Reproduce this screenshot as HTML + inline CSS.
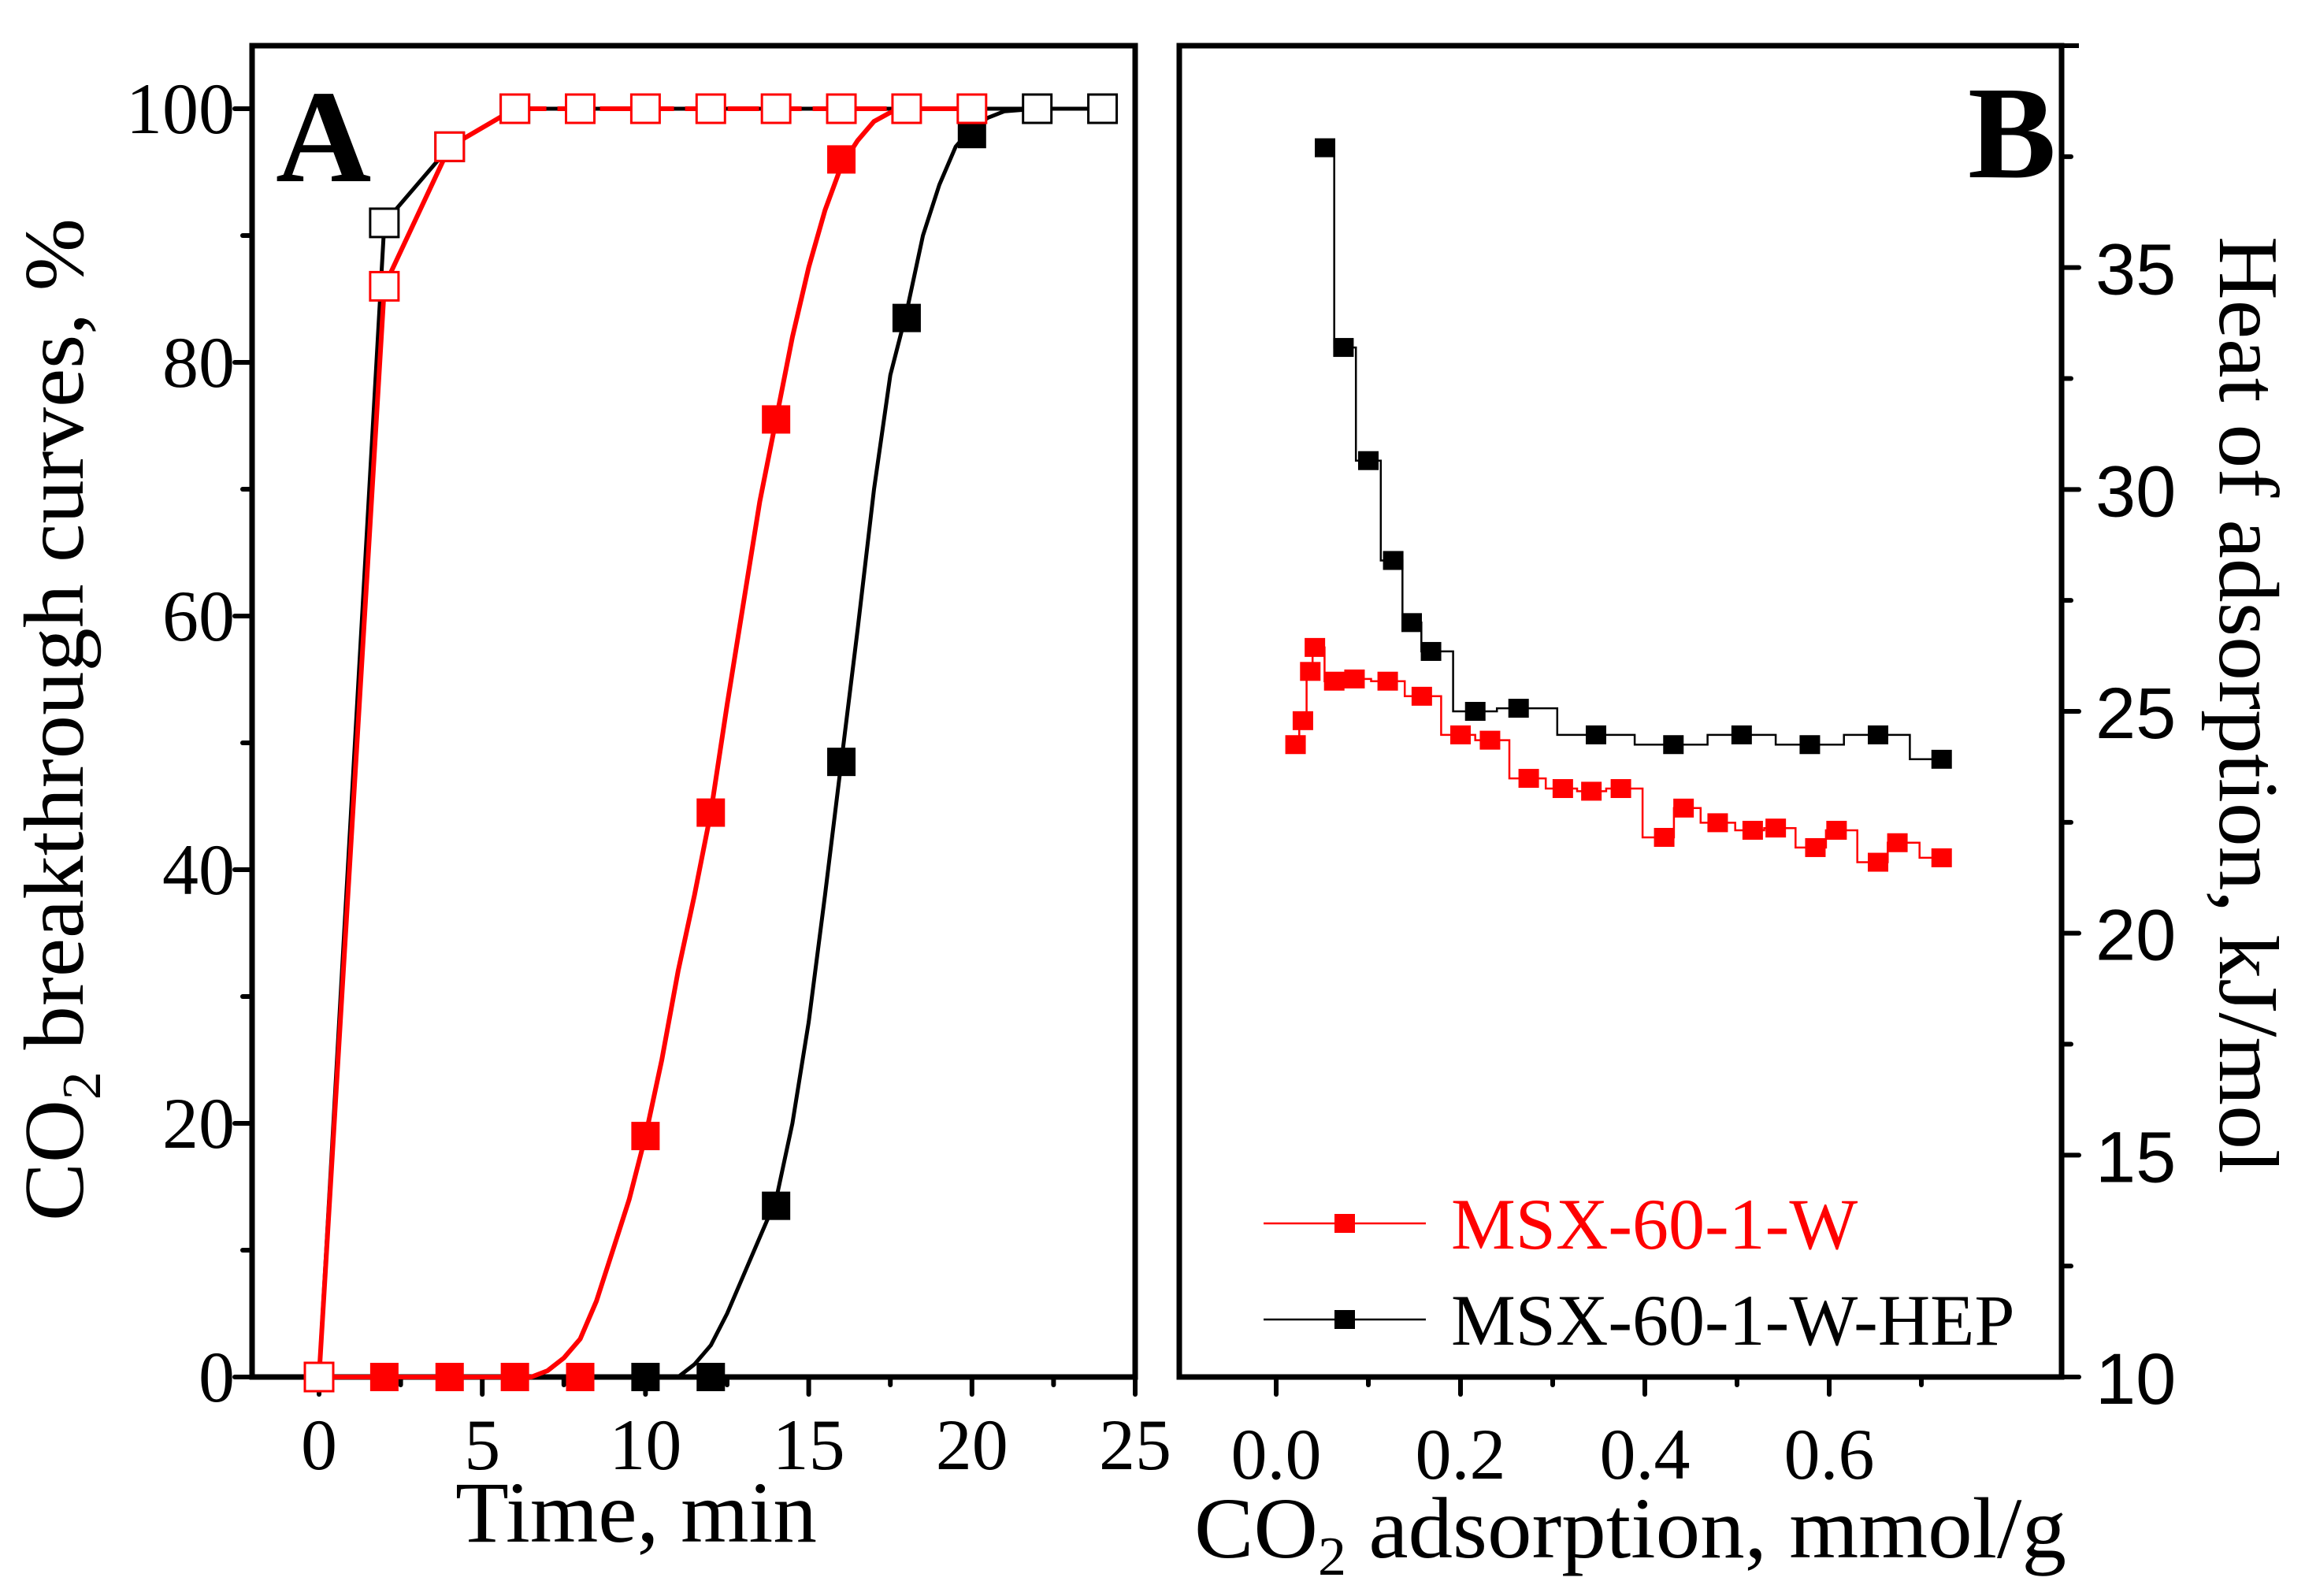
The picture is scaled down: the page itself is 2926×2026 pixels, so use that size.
<!DOCTYPE html>
<html><head><meta charset="utf-8"><style>
html,body{margin:0;padding:0;background:#fff;}
svg{display:block;}
.serif{font-family:"Liberation Serif","DejaVu Serif",serif;}
.sans{font-family:"Liberation Sans","DejaVu Sans",sans-serif;}
</style></head><body>
<svg id="chart" width="2926" height="2026" viewBox="0 0 2926 2026" xmlns="http://www.w3.org/2000/svg">
<g id="panelA"></g>
<g id="panelB"></g>
</svg>
<script>
// ---------- Panel A data ----------
const aXTicks = [0, 5, 10, 15, 20, 25];
const aYTicks = [0, 20, 40, 60, 80, 100];
const redOpenX = [0, 2, 4, 6, 8, 10, 12, 14, 16, 18, 20];
const redOpenY = [0, 86, 97, 100, 100, 100, 100, 100, 100, 100, 100];
const blackOpenX = [0, 2, 4, 6, 22, 24];
const blackOpenY = [0, 91, 97, 100, 100, 100];
const redCurveX = [0, 6.5, 7, 7.5, 8, 8.5, 9, 9.5, 10, 10.5, 11, 11.5, 12, 12.5, 13, 13.5, 14, 14.5, 15, 15.5, 16, 16.5, 17, 17.5, 18, 20];
const redCurveY = [0, 0, 0.5, 1.5, 3, 6, 10, 14, 19, 25, 32, 38, 44.5, 53, 61, 69, 75.5, 82, 87.5, 92, 95.5, 97.5, 99, 99.7, 100, 100];
const redFilledX = [2, 4, 6, 8, 10, 12, 14, 16];
const redFilledY = [0, 0, 0, 0, 19, 44.5, 75.5, 96];
const blackCurveX = [10, 11, 11.5, 12, 12.5, 13, 13.5, 14, 14.5, 15, 15.5, 16, 16.5, 17, 17.5, 18, 18.5, 19, 19.5, 20, 20.5, 21, 22, 24];
const blackCurveY = [0, 0, 1, 2.5, 5, 8, 11, 14, 20, 28, 38, 48.5, 59, 70, 79, 84, 90, 94, 97, 98.5, 99.3, 99.8, 100, 100];
const blackFilledX = [10, 12, 14, 16, 18, 20];
const blackFilledY = [0, 0, 13.5, 48.5, 83.5, 98];

// ---------- Panel B data ----------
const bXTicks = [0.0, 0.2, 0.4, 0.6];
const bXTickLabels = ["0.0", "0.2", "0.4", "0.6"];
const bYTicks = [10, 15, 20, 25, 30, 35];
const hepX = [0.053, 0.073, 0.100, 0.127, 0.147, 0.168, 0.216, 0.263, 0.347, 0.431, 0.505, 0.579, 0.653, 0.722];
const hepY = [37.7, 33.2, 30.65, 28.4, 27.0, 26.35, 25.0, 25.07, 24.47, 24.25, 24.47, 24.25, 24.47, 23.92];
const wX = [0.021, 0.029, 0.037, 0.042, 0.063, 0.085, 0.121, 0.158, 0.200, 0.232, 0.274, 0.311, 0.342, 0.374, 0.421, 0.442, 0.479, 0.517, 0.542, 0.585, 0.608, 0.653, 0.674, 0.722];
const wY = [24.25, 24.79, 25.9, 26.44, 25.68, 25.73, 25.68, 25.34, 24.47, 24.35, 23.49, 23.26, 23.2, 23.26, 22.16, 22.82, 22.49, 22.32, 22.37, 21.93, 22.32, 21.6, 22.04, 21.7];

const NS = "http://www.w3.org/2000/svg";
function mk(parent, tag, attrs) {
  const e = document.createElementNS(NS, tag);
  for (const k in attrs) e.setAttribute(k, attrs[k]);
  parent.appendChild(e);
  return e;
}

// Panel A geometry
const A = {l: 320, r: 1441, t: 58, b: 1748};
const ax = v => 405 + v * (1441 - 405) / 25;
const ay = v => 1748 - v * (1748 - 138) / 100;

const gA = document.getElementById('panelA');
let fr = mk(gA, 'rect', {x: A.l, y: A.t, width: A.r - A.l, height: A.b - A.t, fill: 'none', stroke: '#000', 'stroke-width': 7});


aXTicks.forEach(v => {
  let t = mk(gA, 'line', {x1: ax(v), y1: A.b, x2: ax(v), y2: A.b + 22, stroke: '#000', 'stroke-width': 6, 'stroke-linecap': 'round'});
  
  
  let tx = mk(gA, 'text', {x: ax(v), y: 1865, 'text-anchor': 'middle', 'font-size': 92, class: 'serif'});
  tx.textContent = String(v);
  
  
  if (v < 25) {
    let m = mk(gA, 'line', {x1: ax(v + 2.5), y1: A.b, x2: ax(v + 2.5), y2: A.b + 10, stroke: '#000', 'stroke-width': 6, 'stroke-linecap': 'round'});
    
    
  }
});
aYTicks.forEach(v => {
  let t = mk(gA, 'line', {x1: A.l, y1: ay(v), x2: A.l - 22, y2: ay(v), stroke: '#000', 'stroke-width': 6, 'stroke-linecap': 'round'});
  
  
  let tx = mk(gA, 'text', {x: 298, y: ay(v) + 31, 'text-anchor': 'end', 'font-size': 92, class: 'serif'});
  tx.textContent = String(v);
  
  
  if (v < 100) {
    let m = mk(gA, 'line', {x1: A.l, y1: ay(v + 10), x2: A.l - 12, y2: ay(v + 10), stroke: '#000', 'stroke-width': 6, 'stroke-linecap': 'round'});
    
    
  }
});
function polyA(xs, ys, color, w, dash, name) {
  const pts = xs.map((x, i) => ax(x).toFixed(1) + ',' + ay(ys[i]).toFixed(1)).join(' ');
  const p = mk(gA, 'polyline', {points: pts, fill: 'none', stroke: color, 'stroke-width': w, 'stroke-linejoin': 'round'});
  if (dash) p.setAttribute('stroke-dasharray', dash);
  
  
}
function marksA(xs, ys, color, filled, name) {
  xs.forEach((x, i) => {
    const r = mk(gA, 'rect', {x: ax(x) - 18, y: ay(ys[i]) - 18, width: 36, height: 36, fill: filled ? color : '#fff', stroke: color, 'stroke-width': filled ? 0 : 3});
    
    
  });
}
polyA(blackOpenX, blackOpenY, '#000', 5, null, 'black-blank-line');
polyA(blackCurveX, blackCurveY, '#000', 5, null, 'black-breakthrough-line');
polyA(redCurveX, redCurveY, '#f00', 6, null, 'red-breakthrough-line');
polyA(redOpenX.slice(0, 4), redOpenY.slice(0, 4), '#f00', 6, null, 'red-blank-line');
polyA(redOpenX.slice(3), redOpenY.slice(3), '#f00', 6, '40,14', 'red-blank-dashed-line');
marksA(blackFilledX, blackFilledY, '#000', true, 'black-filled-marker');
marksA(redFilledX, redFilledY, '#f00', true, 'red-filled-marker');
marksA(blackOpenX, blackOpenY, '#000', false, 'black-open-marker');
marksA(redOpenX, redOpenY, '#f00', false, 'red-open-marker');

let lA = mk(gA, 'text', {x: 350, y: 230, 'font-size': 168, 'font-weight': 'bold', class: 'serif'});
lA.textContent = 'A';


let xtA = mk(gA, 'text', {x: 578, y: 1957, 'font-size': 110, class: 'serif', textLength: 459, lengthAdjust: 'spacingAndGlyphs'});
xtA.textContent = 'Time, min';


let ytA = mk(gA, 'text', {transform: 'translate(105,1550) rotate(-90)', 'font-size': 108, class: 'serif'});
ytA.innerHTML = 'CO<tspan font-size="70" dy="22">2</tspan><tspan dy="-22"> breakthrough curves, %</tspan>';
ytA.setAttribute('textLength', 1273);
ytA.setAttribute('lengthAdjust', 'spacingAndGlyphs');



// Panel B geometry
const B = {l: 1497, r: 2617, t: 58, b: 1748};
const bx = v => 1620 + v * 1170;
const by = v => 1748 - (v - 10) * (1748 - 58) / 30;
const gB = document.getElementById('panelB');
let frB = mk(gB, 'rect', {x: B.l, y: B.t, width: B.r - B.l, height: B.b - B.t, fill: 'none', stroke: '#000', 'stroke-width': 7});


bXTicks.forEach((v, i) => {
  let t = mk(gB, 'line', {x1: bx(v), y1: B.b, x2: bx(v), y2: B.b + 22, stroke: '#000', 'stroke-width': 6, 'stroke-linecap': 'round'});
  
  
  let tx = mk(gB, 'text', {x: bx(v), y: 1877, 'text-anchor': 'middle', 'font-size': 92, class: 'serif'});
  tx.textContent = bXTickLabels[i];
  
  
  let m = mk(gB, 'line', {x1: bx(v + 0.1), y1: B.b, x2: bx(v + 0.1), y2: B.b + 10, stroke: '#000', 'stroke-width': 6, 'stroke-linecap': 'round'});
  
  
});
bYTicks.forEach(v => {
  let t = mk(gB, 'line', {x1: B.r, y1: by(v), x2: B.r + 22, y2: by(v), stroke: '#000', 'stroke-width': 6, 'stroke-linecap': 'round'});
  
  
  let tx = mk(gB, 'text', {x: 2660, y: by(v) + 34, 'font-size': 92, class: 'sans'});
  tx.textContent = String(v);
  
  
  let m = mk(gB, 'line', {x1: B.r, y1: by(v + 2.5), x2: B.r + 12, y2: by(v + 2.5), stroke: '#000', 'stroke-width': 6, 'stroke-linecap': 'round'});
  
  
});
let mt = mk(gB, 'line', {x1: B.r, y1: by(40), x2: B.r + 22, y2: by(40), stroke: '#000', 'stroke-width': 6});



function stepLine(xs, ys, color, name) {
  let d = 'M' + bx(xs[0]).toFixed(1) + ',' + by(ys[0]).toFixed(1);
  for (let i = 1; i < xs.length; i++) {
    const xm = (bx(xs[i - 1]) + bx(xs[i])) / 2;
    d += ' L' + xm.toFixed(1) + ',' + by(ys[i - 1]).toFixed(1) + ' L' + xm.toFixed(1) + ',' + by(ys[i]).toFixed(1) + ' L' + bx(xs[i]).toFixed(1) + ',' + by(ys[i]).toFixed(1);
  }
  const p = mk(gB, 'path', {d: d, fill: 'none', stroke: color, 'stroke-width': 2.5});
  
  
}
function marksB(xs, ys, color, name) {
  xs.forEach((x, i) => {
    const r = mk(gB, 'rect', {x: bx(x) - 13, y: by(ys[i]) - 12, width: 26, height: 24, fill: color});
    
    
  });
}
stepLine(hepX, hepY, '#000', 'hep-line');
stepLine(wX, wY, '#f00', 'msx-w-line');
marksB(hepX, hepY, '#000', 'hep-marker');
marksB(wX, wY, '#f00', 'msx-w-marker');

let lB = mk(gB, 'text', {x: 2498, y: 225, 'font-size': 168, 'font-weight': 'bold', class: 'serif'});
lB.textContent = 'B';


let xtB = mk(gB, 'text', {x: 1516, y: 1977, 'font-size': 110, class: 'serif', textLength: 1107, lengthAdjust: 'spacingAndGlyphs'});
xtB.innerHTML = 'CO<tspan font-size="70" dy="22">2</tspan><tspan dy="-22"> adsorption, mmol/g</tspan>';


let ytB = mk(gB, 'text', {transform: 'translate(2818,300) rotate(90)', 'font-size': 108, class: 'serif', textLength: 1190, lengthAdjust: 'spacingAndGlyphs'});
ytB.textContent = 'Heat of adsorption, kJ/mol';



const legG = mk(gB, 'g', {});


const legNames = ['MSX-60-1-W', 'MSX-60-1-W-HEP'];
const legColors = ['#f00', '#000'];
legNames.forEach((n, i) => {
  const y = 1553 + i * 122;
  const e = mk(legG, 'g', {});
  
  
  mk(e, 'line', {x1: 1604, y1: y, x2: 1810, y2: y, stroke: legColors[i], 'stroke-width': 2.5});
  mk(e, 'rect', {x: 1694, y: y - 12, width: 26, height: 24, fill: legColors[i]});
  const t = mk(e, 'text', {x: 1842, y: y + 32, 'font-size': 92, fill: legColors[i], class: 'serif'});
  t.textContent = n;
});
</script>
</body></html>
